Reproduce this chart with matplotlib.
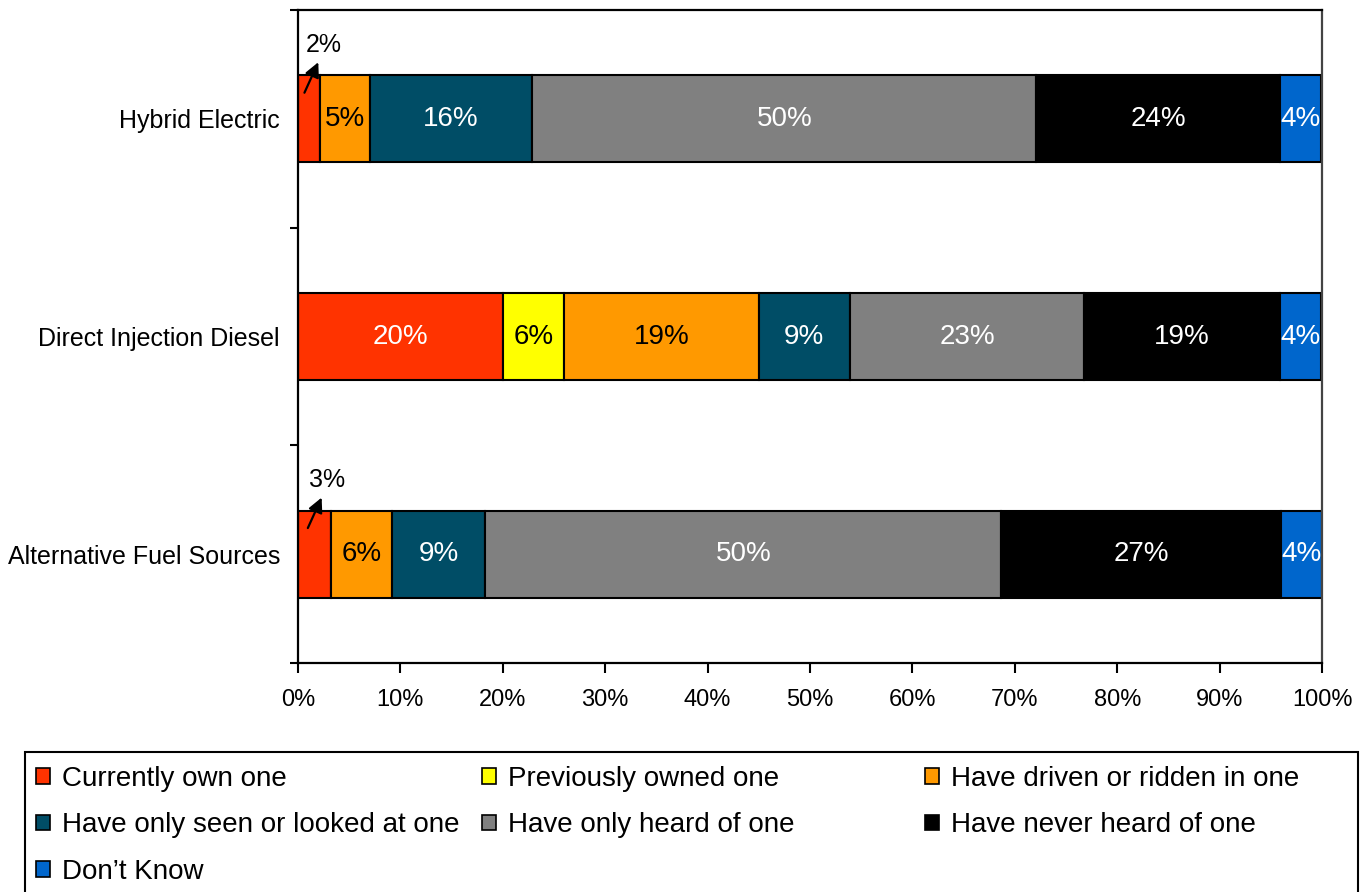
import matplotlib
matplotlib.use("Agg")
import matplotlib.pyplot as plt
from matplotlib.patches import Rectangle
from matplotlib.ticker import FixedLocator, PercentFormatter

plt.rcParams['font.family'] = ['Liberation Sans', 'DejaVu Sans']

categories = ["Hybrid Electric", "Direct Injection Diesel", "Alternative Fuel Sources"]
series = ["Currently own one", "Previously owned one", "Have driven or ridden in one",
          "Have only seen or looked at one", "Have only heard of one",
          "Have never heard of one", "Don\u2019t Know"]
# values (percent) per series, in category order
own_now      = [2.1, 20.0, 3.2]
owned_before = [0.0, 6.0, 0.0]
driven       = [4.9, 19.0, 6.0]
seen         = [15.9, 8.9, 9.1]
heard        = [49.2, 22.9, 50.4]
never_heard  = [23.8, 19.1, 27.3]
dont_know    = [4.0, 4.0, 4.0]
values = [own_now, owned_before, driven, seen, heard, never_heard, dont_know]
# displayed labels
labels = [["2%", "20%", "3%"], [None, "6%", None], ["5%", "19%", "6%"],
          ["16%", "9%", "9%"], ["50%", "23%", "50%"], ["24%", "19%", "27%"],
          ["4%", "4%", "4%"]]
colors = ["#FF3300", "#FFFF00", "#FF9900", "#004D66", "#808080", "#000000", "#0066CC"]
text_colors = ["white", "black", "black", "white", "white", "white", "white"]
x_ticks = [0, 10, 20, 30, 40, 50, 60, 70, 80, 90, 100]

FS_CAT = 18
FS_TICK = 17
FS_BAR = 20
FS_LEG = 20

fig = plt.figure(figsize=(13.65, 8.92), dpi=100)
ax = fig.add_axes([298/1365, 1-663/892, (1322-298)/1365, (663-10)/892])

ypos = [0.5, 1.5, 2.5]
left = [0.0, 0.0, 0.0]
handles = []
for si, (vals, col) in enumerate(zip(values, colors)):
    bars = ax.barh(ypos, vals, left=left, height=0.4, color=col,
                   edgecolor="black", linewidth=1.5, label=series[si])
    handles.append(bars)
    for ci, v in enumerate(vals):
        lab = labels[si][ci]
        if lab is None or v <= 0:
            continue
        cx = left[ci] + v / 2
        if v >= 4:
            ax.text(cx, ypos[ci], lab, ha="center", va="center",
                    color=text_colors[si], fontsize=FS_BAR)
        else:
            # small segment: leader arrow pointing up to a label above the bar
            tail_x = left[ci] + v * 0.3
            head_x = tail_x + 1.35
            ax.annotate("", xy=(head_x, ypos[ci] - 0.26),
                        xytext=(tail_x, ypos[ci] - 0.12),
                        arrowprops=dict(arrowstyle="-|>", color="black", lw=1.6,
                                        mutation_scale=22, shrinkA=0, shrinkB=0))
            ax.text(head_x + 0.5, ypos[ci] - 0.34, lab, ha="center", va="center",
                    fontsize=FS_CAT, color="black")
    left = [l + v for l, v in zip(left, vals)]

ax.set_xlim(0, 100)
ax.set_ylim(3, 0)
ax.xaxis.set_major_locator(FixedLocator(x_ticks))
ax.xaxis.set_major_formatter(PercentFormatter(decimals=0))
ax.yaxis.set_major_locator(FixedLocator([0, 1, 2, 3]))
ax.yaxis.set_minor_locator(FixedLocator(ypos))
ax.set_yticklabels([], minor=False)
ax.set_yticklabels(categories, minor=True)
ax.tick_params(axis="y", which="major", length=6, width=1.5, direction="out")
ax.tick_params(axis="y", which="minor", length=0, pad=13, labelsize=FS_CAT)
ax.tick_params(axis="x", which="major", length=7, width=1.5, direction="out",
               pad=12, labelsize=FS_TICK)
for s in ax.spines.values():
    s.set_linewidth(1.6)
    s.set_color("black")
ax.spines["right"].set_color("#444444")

# legend: frame box (cut off at the bottom) plus three equal-width columns, row by row
fig.patches.append(Rectangle((25/1365, -0.05), (1358-25)/1365, 1-752/892 + 0.05,
                             transform=fig.transFigure, facecolor="none",
                             edgecolor="black", linewidth=1.5, zorder=0))
col_x = [36, 482, 925]
for c in range(3):
    idx = list(range(c, len(series), 3))
    leg = fig.legend(handles=[handles[i] for i in idx],
                     labels=[series[i] for i in idx], ncol=1, loc="upper left",
                     bbox_to_anchor=(col_x[c]/1365, 1-(776-10)/892),
                     fontsize=FS_LEG, frameon=False, handlelength=0.5,
                     handleheight=0.5, handletextpad=0.43, labelspacing=0.73,
                     borderpad=0, borderaxespad=0)
    for h in leg.legend_handles:
        h.set_linewidth(1.2)

fig.savefig("out.png", dpi=100)
